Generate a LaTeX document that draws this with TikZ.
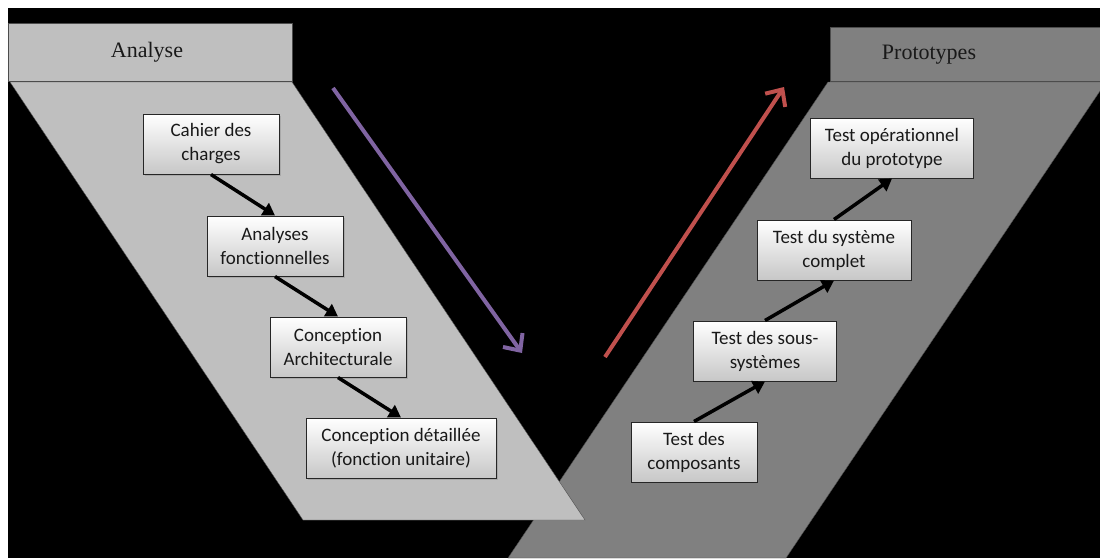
\documentclass[tikz,border=0pt]{standalone}
\usepackage{fontspec}
\setmainfont{Carlito}[Ligatures=NoCommon]
\newfontfamily\titlefont{Liberation Serif}
\usetikzlibrary{arrows.meta,shadows}

\definecolor{descent}{HTML}{8064A2}
\definecolor{ascent}{HTML}{C0504D}

\tikzset{
  stage/.style={draw=black!85, line width=1pt, top color=white, bottom color=black!22,
    align=center, font=\fontsize{19}{24}\selectfont, text=black!90,
    minimum height=60pt, minimum width=#1, inner xsep=8pt,
    drop shadow={shadow xshift=1.5pt, shadow yshift=-2pt, opacity=0.35}},
  stage/.default=136pt,
  flow/.style={line width=3.5pt, -{Triangle[length=12pt,width=14pt]}},
  phase/.style={line width=4pt, -{Straight Barb[length=13pt,width=24pt]}},
  title/.style={font=\titlefont\fontsize{22}{24}\selectfont, text=black!90},
}

\begin{document}
\begin{tikzpicture}[x=1pt,y=-1pt]
\useasboundingbox (0,0) rectangle (1100,558);
\fill[white] (0,0) rectangle (1100,558);
\fill[black] (8,8) rectangle (1100,558);

\begin{scope}
\clip (8,8) rectangle (1100,558);
% prototypes branch
\draw[black!70, fill=black!50] (828,82) -- (1106,82) -- (786,558) -- (508,558) -- cycle;
\draw[black!70, fill=black!50] (830,27) rectangle (1110,81);
% analyse branch
\draw[black!70, fill=black!25] (10,82) -- (292,82) -- (585,520) -- (303,520) -- cycle;
\draw[black!70, fill=black!25] (8,23) rectangle (292,81);
\end{scope}

\node[title] (analyse) at (147,52) {Analyse};
\node[title] (proto) at (929,55) {Prototypes};

% left side of the V
\node[stage] (cdc) at (211,144) {Cahier des\\charges};
\node[stage] (af) at (275,246) {Analyses\\fonctionnelles};
\node[stage] (ca) at (338,347) {Conception\\Architecturale};
\node[stage=190pt] (cd) at (401,448) {Conception détaillée\\(fonction unitaire)};

% right side of the V
\node[stage=126pt] (tc) at (694,452) {Test des\\composants};
\node[stage=143pt] (tss) at (765,351) {Test des sous-\\systèmes};
\node[stage=154pt] (tsc) at (834,250) {Test du système\\complet};
\node[stage=163pt] (top) at (892,148) {Test opérationnel\\du prototype};

\draw[flow] (cdc.south) -- (af.north);
\draw[flow] (af.south) -- (ca.north);
\draw[flow] (ca.south) -- (cd.north);
\draw[flow] (tc.north) -- (tss.south);
\draw[flow] (tss.north) -- (tsc.south);
\draw[flow] (tsc.north) -- (top.south);

% big arrows
\coordinate (downA) at (333,88);
\coordinate (downB) at (522,353);
\coordinate (upA) at (605,357);
\coordinate (upB) at (784,87);
\draw[phase, descent] (downA) -- (downB);
\draw[phase, ascent] (upA) -- (upB);
\end{tikzpicture}
\end{document}
